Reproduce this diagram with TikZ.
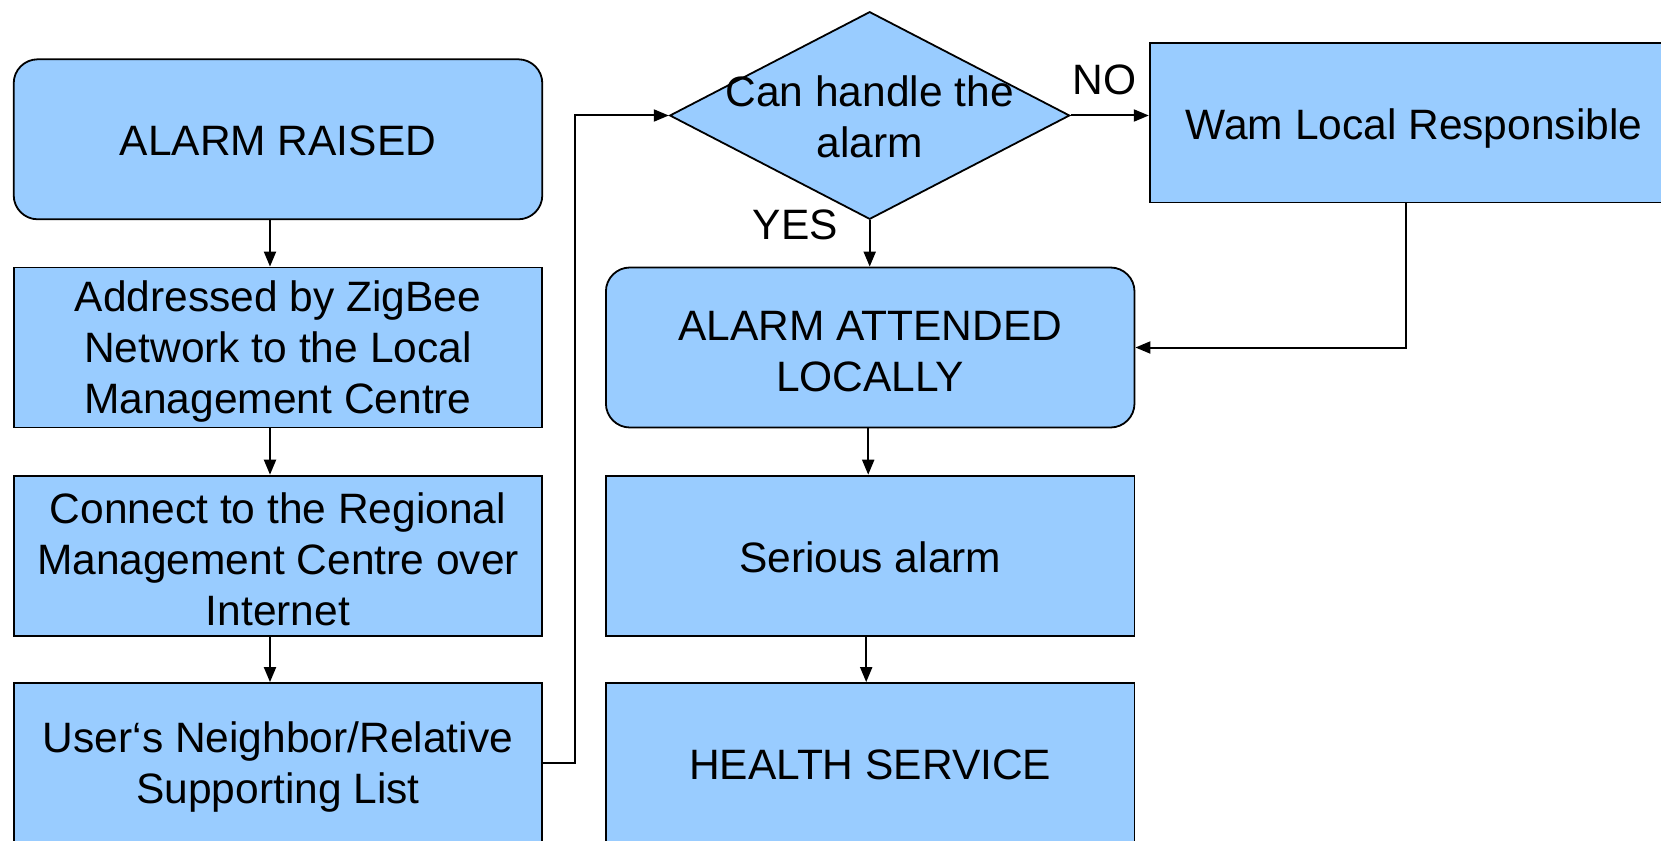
\documentclass[tikz,border=0pt]{standalone}
\usepackage{fontspec}
\setmainfont{Liberation Sans}
\usetikzlibrary{shapes.geometric,arrows.meta}
\definecolor{boxblue}{RGB}{153,204,255}
\tikzset{
  txt/.style={font=\fontsize{42.5}{50.8}\selectfont, align=center, inner sep=0pt},
  tl/.style={txt, yshift=-4pt},
  tls/.style={txt, yshift=-1.5pt},
  box/.style={draw=black, line width=1.8pt, fill=boxblue, minimum width=528.6pt, minimum height=160pt, inner sep=0pt},
  rbox/.style={box, rounded corners=24pt},
  dia/.style={diamond, draw=black, line width=1.8pt, fill=boxblue, minimum width=400pt, minimum height=207.6pt, inner sep=0pt},
  conn/.style={line width=2pt, -{Triangle[length=15pt,width=12pt]}}
}
\begin{document}
\begin{tikzpicture}[x=1pt,y=-1pt]
\clip (0,0) rectangle (1661,840);
\fill[white] (0,0) rectangle (1661,840);
% left column
\node[rbox, label={[tls]center:ALARM RAISED}] (raised) at (278,139.3) {};
\node[box, label={[tl]center:Addressed by ZigBee\\Network to the Local\\Management Centre}] (addr) at (278,347.5) {};
\node[box, label={[tl]center:Connect to the Regional\\Management Centre over\\Internet}] (cnx) at (278,555.6) {};
\node[box, label={[tl]center:User‘s Neighbor/Relative\\Supporting List}] (user) at (278,763) {};
% right column
\node[dia, label={[txt,yshift=-1.5pt]center:Can handle the\\alarm}] (dec) at (869.7,115.5) {};
\node[box, minimum height=159pt, label={[txt,yshift=-5.5pt]center:Wam Local Responsible}] (wam) at (1414,122.9) {};
\node[rbox, label={[tl]center:ALARM ATTENDED\\LOCALLY}] (att) at (870.2,347.5) {};
\node[box, label={[tls]center:Serious alarm}] (ser) at (870.2,555.6) {};
\node[box, label={[tls]center:HEALTH SERVICE}] (hs) at (870.2,763) {};
% labels
\node[txt] (no) at (1104.8,79.4) {NO};
\node[txt] (yes) at (795.5,224.5) {YES};
% connectors
\draw[conn] ([xshift=-8pt]raised.south) -- ([xshift=-8pt]addr.north);
\draw[conn] ([xshift=-8pt]addr.south) -- ([xshift=-8pt]cnx.north);
\draw[conn] ([xshift=-8pt]cnx.south) -- ([xshift=-8pt]user.north);
\draw[conn] (user.east) -- ++(32,0) |- (dec.west);
\draw[conn] (dec.east) -- (dec.east -| wam.west);
\draw[conn] (dec.south) -- (dec.south |- att.north);
\draw[conn] ([xshift=-8pt]wam.south) |- (att.east);
\draw[conn] ([xshift=-2pt]att.south) -- ([xshift=-2pt]ser.north);
\draw[conn] ([xshift=-4pt]ser.south) -- ([xshift=-4pt]hs.north);
\end{tikzpicture}
\end{document}
